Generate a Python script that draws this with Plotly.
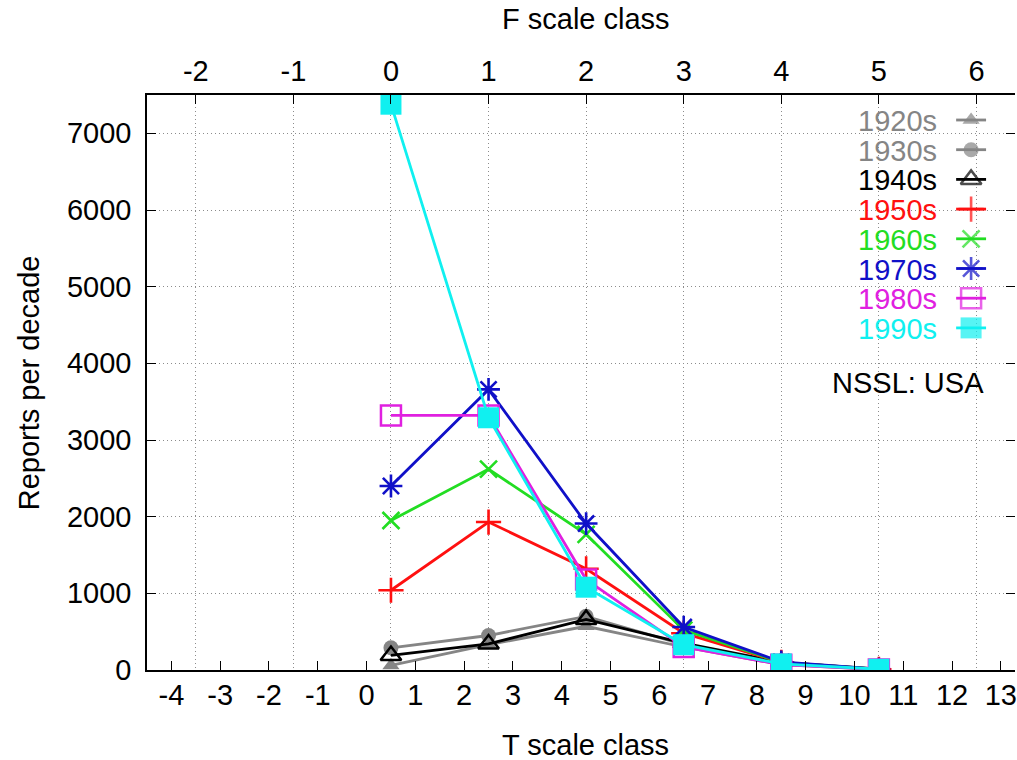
import plotly.graph_objects as go

# Tornado reports per decade by damage class (NSSL, USA)
t_class = [0.5, 2.5, 4.5, 6.5, 8.5, 10.5]   # T-scale midpoints of F0..F5

decades = ["1920s", "1930s", "1940s", "1950s", "1960s", "1970s", "1980s", "1990s"]
r1920s = [60, 330, 570, 300, 70, 5]
r1930s = [290, 450, 700, 330, 90, 8]
r1940s = [190, 340, 660, 350, 100, 8]
r1950s = [1040, 1930, 1320, 480, 100, 10]
r1960s = [1950, 2620, 1770, 520, 100, 10]
r1970s = [2400, 3660, 1910, 560, 105, 12]
r1980s = [3320, 3320, 1180, 300, 70, 8]
r1990s = [7380, 3290, 1080, 330, 80, 10]
series = [r1920s, r1930s, r1940s, r1950s, r1960s, r1970s, r1980s, r1990s]

t_ticks = list(range(-4, 14))
f_ticks = list(range(-2, 7))
y_ticks = list(range(0, 8000, 1000))

styles = [
    dict(color="#858585", symbol="triangle-up", size=15, mline=0),
    dict(color="#858585", symbol="circle", size=15, mline=0),
    dict(color="#000000", symbol="triangle-up-open", size=18, mline=2.5),
    dict(color="#ff1010", symbol="cross-thin", size=18, mline=2.6),
    dict(color="#22dd22", symbol="x-thin", size=17, mline=2.6),
    dict(color="#1010c8", symbol="asterisk", size=19, mline=2.6),
    dict(color="#e020e0", symbol="square-open", size=20, mline=2.5),
    dict(color="#10f0f0", symbol="square", size=21, mline=0),
]

FONT = "Liberation Sans, Arial, sans-serif"
FS = 29

W, H = 1017, 760
L, R, T, B = 147, 0, 95, 90
x_lo, x_hi = -4.5, 13.29


def px_x(p):
    return (p - L) / (W - L - R)


def px_y(p):
    return (H - B - p) / (H - B - T)


fig = go.Figure()

for name, vals, st in zip(decades, series, styles):
    fig.add_trace(go.Scatter(
        x=t_class, y=vals, name=name, mode="lines+markers",
        line=dict(color=st["color"], width=2.8),
        marker=dict(symbol=st["symbol"], size=st["size"], color=st["color"],
                    line=dict(color=st["color"], width=st["mline"])),
        showlegend=False,
    ))

# key: label on the left, line+marker sample on the right (pixel-mapped axes)
row0, row_h = 120, 29.7
for i, (name, st) in enumerate(zip(decades, styles)):
    yk = row0 + i * row_h
    fig.add_trace(go.Scatter(
        x=[958, 973, 988], y=[yk, yk, yk], mode="lines+markers",
        xaxis="x3", yaxis="y3",
        line=dict(color=st["color"], width=2.8),
        marker=dict(symbol=st["symbol"], size=[0, st["size"], 0], color=st["color"],
                    line=dict(color=st["color"], width=st["mline"])),
        showlegend=False, hoverinfo="skip",
    ))
    fig.add_annotation(text=name, xref="paper", yref="paper",
                       x=px_x(941), y=px_y(yk + 1), xanchor="right", yanchor="middle",
                       showarrow=False, font=dict(family=FONT, size=FS, color=st["color"]))

fig.add_annotation(text="NSSL: USA", xref="paper", yref="paper",
                   x=px_x(988), y=px_y(383), xanchor="right", yanchor="middle",
                   showarrow=False, font=dict(family=FONT, size=FS, color="black"))

# axis titles
fig.add_annotation(text="F scale class", xref="paper", yref="paper",
                   x=px_x(587), y=px_y(19), xanchor="center", yanchor="middle",
                   showarrow=False, font=dict(family=FONT, size=FS, color="black"))
fig.add_annotation(text="T scale class", xref="paper", yref="paper",
                   x=px_x(587), y=px_y(745), xanchor="center", yanchor="middle",
                   showarrow=False, font=dict(family=FONT, size=FS, color="black"))
fig.add_annotation(text="Reports per decade", xref="paper", yref="paper",
                   x=px_x(29), y=px_y(383), xanchor="center", yanchor="middle",
                   textangle=-90, showarrow=False,
                   font=dict(family=FONT, size=FS, color="black"))

# placeholder trace so the top F axis is always laid out
fig.add_trace(go.Scatter(x=[], y=[], xaxis="x2", yaxis="y2", showlegend=False,
                         hoverinfo="skip"))

axis_common = dict(ticks="inside", ticklen=9, tickwidth=1.3, tickcolor="black",
                   showline=True, linecolor="black", linewidth=1.5,
                   zeroline=False, ticklabeloverflow="allow",
                   tickfont=dict(family=FONT, size=FS, color="black"))
grid = dict(showgrid=True, gridcolor="#8c8c8c", gridwidth=1, griddash="1px,3px")

fig.update_layout(
    width=W, height=H,
    margin=dict(l=L, r=R, t=T, b=B, pad=0),
    paper_bgcolor="white", plot_bgcolor="white",
    font=dict(family=FONT, size=FS, color="black"),
    xaxis=dict(range=[x_lo, x_hi], tickmode="array", tickvals=t_ticks,
               ticktext=[str(v) for v in t_ticks],
               showgrid=False, ticklabelstandoff=-2, **axis_common),
    xaxis2=dict(range=[(x_lo - 0.5) / 2, (x_hi - 0.5) / 2], overlaying="x",
                side="top", anchor="y", tickmode="array", tickvals=f_ticks,
                ticktext=[str(v) for v in f_ticks],
                ticklabelstandoff=1, **grid, **axis_common),
    yaxis=dict(range=[0, 7500], tickmode="array", tickvals=y_ticks,
               ticktext=[str(v) for v in y_ticks],
               ticklabelstandoff=8, **grid, **axis_common),
    yaxis2=dict(range=[0, 7500], overlaying="y", side="right", anchor="x",
                tickmode="array", tickvals=y_ticks, ticks="inside", ticklen=9,
                tickcolor="black", showticklabels=False, showline=False,
                showgrid=False, zeroline=False),
    xaxis3=dict(range=[L, W - R], overlaying="x", anchor="y3", visible=False),
    yaxis3=dict(range=[H - B, T], overlaying="y", anchor="x3", visible=False),
)

fig.write_html("out.html")
